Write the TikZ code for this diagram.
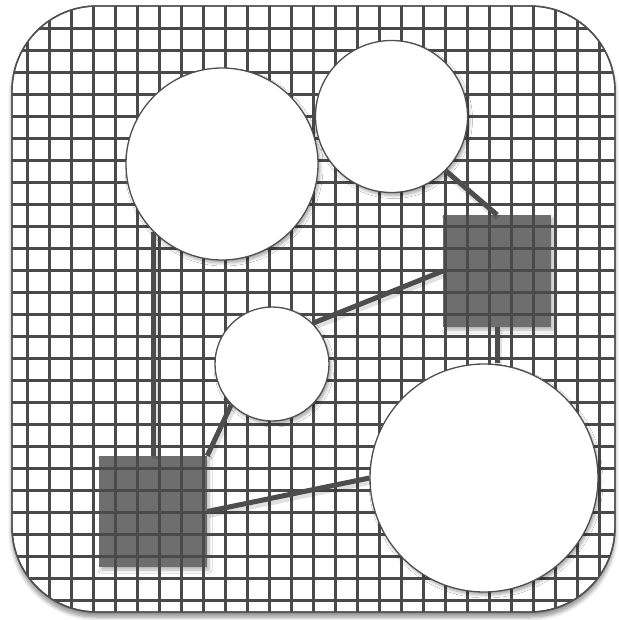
\documentclass[tikz,border=0pt]{standalone}
\usetikzlibrary{shadows.blur}
\definecolor{gridc}{HTML}{4A4A4A}
\definecolor{sqc}{HTML}{6E6E6E}
\definecolor{linec}{HTML}{4D4D4D}
\definecolor{edgec}{HTML}{505050}
\tikzset{
  panel/.style={draw=edgec, line width=1.4pt, fill=white, rounded corners=85pt,
    blur shadow={shadow xshift=0pt, shadow yshift=-5pt, shadow blur steps=8, shadow blur radius=4pt, shadow opacity=45}},
  gridline/.style={draw=gridc, line width=3pt},
  circ/.style={circle, draw=edgec, line width=1.3pt, fill=white, inner sep=0pt,
    blur shadow={shadow xshift=2pt, shadow yshift=-3pt, shadow blur steps=6, shadow blur radius=3pt, shadow opacity=35}},
  sq/.style={rectangle, fill=sqc, inner sep=0pt,
    blur shadow={shadow xshift=2pt, shadow yshift=-3pt, shadow blur steps=6, shadow blur radius=3pt, shadow opacity=30}},
  conn/.style={draw=linec, line width=5pt,
    preaction={draw=black, draw opacity=0.12, line width=7pt, transform canvas={xshift=1.5pt, yshift=-3pt}}},
}
\begin{document}
\begin{tikzpicture}[x=1pt,y=-1pt]
\useasboundingbox (0,0) rectangle (618,620);
% panel
\path[panel] (12,6) rectangle (615,612);
% squares (under grid)
\node[sq, minimum width=108pt, minimum height=112pt] (s1) at (497,271) {};
\node[sq, minimum width=108pt, minimum height=111pt] (s2) at (153,511.5) {};
% grid
\begin{scope}
  \clip[rounded corners=85pt] (12,6) rectangle (615,612);
  \foreach \i in {0,...,26} {
    \draw[gridline] (27.3+22*\i,0) -- (27.3+22*\i,620);
    \draw[gridline] (0,28.3+22*\i) -- (618,28.3+22*\i);
  }
\end{scope}
\draw[draw=edgec, line width=1.4pt, rounded corners=85pt] (12,6) rectangle (615,612);
% circles
\node[circ, minimum size=192pt] (c1) at (222,164) {};
\node[circ, minimum size=152pt] (c2) at (391.5,116.5) {};
\node[circ, minimum size=114pt] (c3) at (272,364) {};
\node[circ, minimum size=228pt] (c4) at (484,478) {};
% connectors
\draw[conn] (c1.225) -- (c1.225 |- s2.north);
\draw[conn] (c3.225) -- (s2.north east);
\draw[conn] (s2.east) -- (c4.west);
\draw[conn] (c3.45) -- (s1.west);
\draw[conn] (c2.-45) -- (s1.north);
\draw[conn] (s1.south) -- (s1.south |- c4.north);
\end{tikzpicture}
\end{document}
